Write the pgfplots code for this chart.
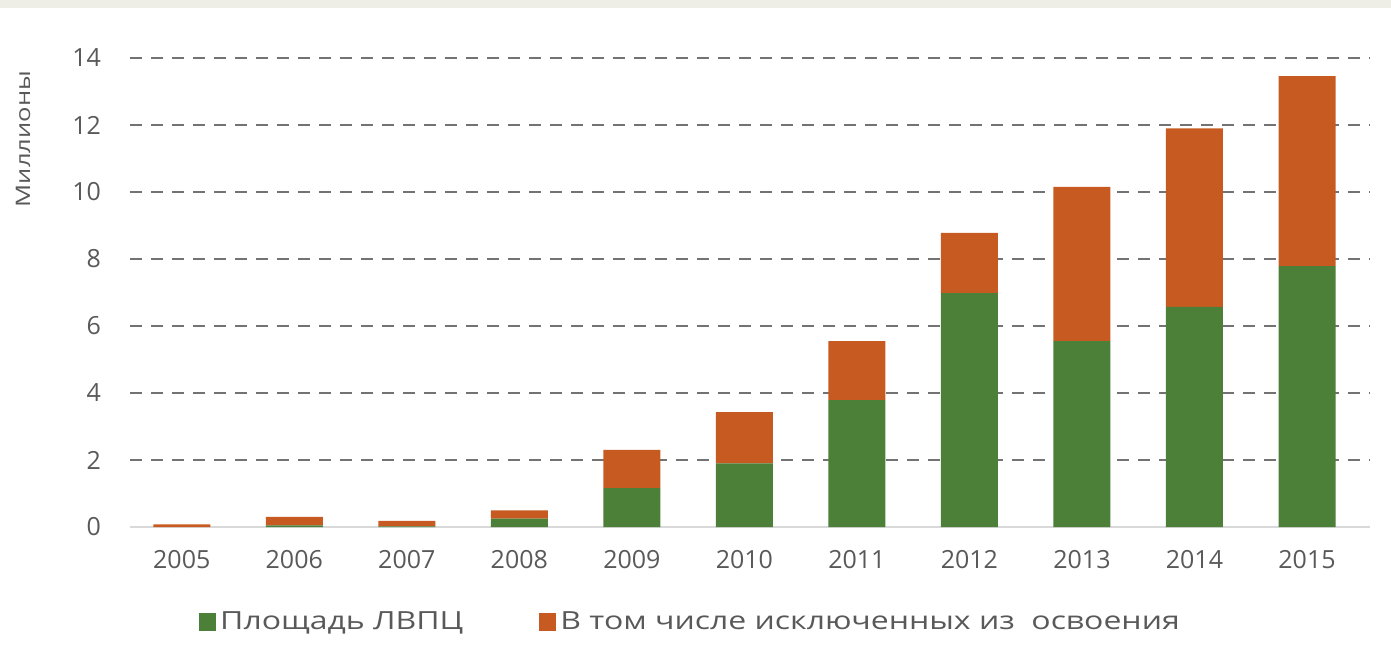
\documentclass[border=0pt]{standalone}
\usepackage{fontspec}
\setmainfont{Open Sans}
\newfontfamily\legfont[FakeStretch=1.28]{Open Sans}
\usepackage{pgfplots}
\pgfplotsset{compat=1.18}
\definecolor{grn}{HTML}{4C7F38}
\definecolor{org}{HTML}{C65A20}
\definecolor{txt}{HTML}{595959}
\definecolor{band}{HTML}{EFEEE6}
\begin{document}
\begin{tikzpicture}
\begin{axis}[
  at={(0,0)}, anchor=south west,
  scale only axis, width=620pt, height=234.5pt,
  ybar stacked, bar width=28.5pt,
  xmin=-0.46, xmax=10.56, ymin=0, ymax=14,
  xtick={0,...,10}, xticklabels={2005,2006,2007,2008,2009,2010,2011,2012,2013,2014,2015},
  ytick={0,2,...,14},
  axis x line*=bottom, axis y line*=left,
  x axis line style={draw=black!15, line width=0.8pt, -},
  y axis line style={draw=none},
  major tick length=0pt,
  ymajorgrids, grid style={draw=black!55, line width=1.2pt, dash pattern=on 6pt off 4.5pt},
  /pgf/number format/assume math mode=true,
  tick label style={font=\fontsize{12.5}{14}\selectfont, text=txt},
  xticklabel style={yshift=-8pt},
  yticklabel style={xshift=-11pt},
  ylabel={Миллионы}, ylabel style={font=\legfont\fontsize{10}{12}\selectfont, text=txt, at={(axis description cs:-0.0863,0.827)}, anchor=center, rotate=0},
  legend style={at={(axis description cs:0.4528,-0.2026)}, anchor=center, draw=none, fill=none,
    font=\legfont\fontsize{12.5}{14}\selectfont, text=txt, legend columns=2,
    /tikz/every even column/.append style={column sep=36pt}},
  legend image code/.code={\fill[#1] (0pt,-4.3pt) rectangle (8.5pt,4.3pt);},
]
\addplot[fill=grn, draw=none] coordinates {(0,0) (1,0.05) (2,0.02) (3,0.25) (4,1.16) (5,1.9) (6,3.79) (7,6.98) (8,5.55) (9,6.57) (10,7.79)};
\addplot[fill=org, draw=none] coordinates {(0,0.08) (1,0.25) (2,0.16) (3,0.25) (4,1.14) (5,1.53) (6,1.76) (7,1.8) (8,4.6) (9,5.33) (10,5.67)};
\legend{Площадь ЛВПЦ, В том числе исключенных из\ \ освоения}
\end{axis}
\fill[band] (-65pt,259.5pt) rectangle (630.5pt,263.5pt);
\pgfresetboundingbox
\path[use as bounding box] (-65pt,-58.5pt) rectangle (630.5pt,263.5pt);
\end{tikzpicture}
\end{document}
